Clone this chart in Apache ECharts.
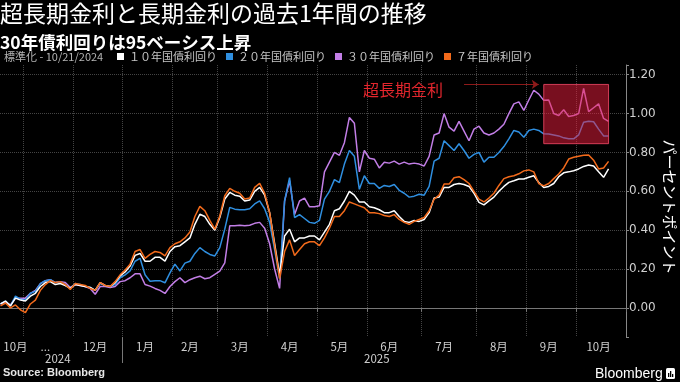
<!DOCTYPE html>
<html><head><meta charset="utf-8">
<script src="https://cdn.jsdelivr.net/npm/echarts@6/dist/echarts.min.js"></script>
<style>html,body{margin:0;padding:0;background:#000;}#c{width:680px;height:382px;}</style>
</head><body><div id="c"></div>
<script>
// sampled trading days (every second JGB trading day)
const dates = [
'2024-10-21','2024-10-23','2024-10-25','2024-10-29','2024-10-31',
'2024-11-05','2024-11-07','2024-11-11','2024-11-13','2024-11-15','2024-11-19','2024-11-21','2024-11-25','2024-11-27','2024-11-29',
'2024-12-03','2024-12-05','2024-12-09','2024-12-11','2024-12-13','2024-12-17','2024-12-19','2024-12-23','2024-12-25','2024-12-27',
'2025-01-06','2025-01-08','2025-01-10','2025-01-15','2025-01-17','2025-01-21','2025-01-23','2025-01-27','2025-01-29','2025-01-31',
'2025-02-04','2025-02-06','2025-02-10','2025-02-13','2025-02-17','2025-02-19','2025-02-21','2025-02-26','2025-02-28',
'2025-03-04','2025-03-06','2025-03-10','2025-03-12','2025-03-14','2025-03-18','2025-03-21','2025-03-25','2025-03-27','2025-03-31',
'2025-04-02','2025-04-04','2025-04-08','2025-04-10','2025-04-14','2025-04-16','2025-04-18','2025-04-22','2025-04-24','2025-04-28',
'2025-05-01','2025-05-07','2025-05-09','2025-05-13','2025-05-15','2025-05-19','2025-05-21','2025-05-23','2025-05-27','2025-05-29',
'2025-06-02','2025-06-04','2025-06-06','2025-06-10','2025-06-12','2025-06-16','2025-06-18','2025-06-20','2025-06-24','2025-06-26','2025-06-30',
'2025-07-02','2025-07-04','2025-07-08','2025-07-10','2025-07-14','2025-07-16','2025-07-18','2025-07-23','2025-07-25','2025-07-29','2025-07-31',
'2025-08-04','2025-08-06','2025-08-08','2025-08-13','2025-08-15','2025-08-19','2025-08-21','2025-08-25','2025-08-27','2025-08-29',
'2025-09-02','2025-09-04','2025-09-08','2025-09-10','2025-09-12','2025-09-17','2025-09-19','2025-09-24','2025-09-26','2025-09-30',
'2025-10-02','2025-10-06','2025-10-08','2025-10-10','2025-10-15','2025-10-17','2025-10-21'
];
// empty axis room after the last observation
const futureDates = ['2025-10-23','2025-10-27','2025-10-29'];

const seriesNames = ['１０年国債利回り','２０年国債利回り','３０年国債利回り','７年国債利回り'];

const y10 = [
0.02,0.035,0.01,0.05,0.04,0.035,0.06,0.075,0.11,0.13,
0.135,0.12,0.125,0.115,0.10,0.12,0.115,0.11,0.105,0.09,
0.13,0.115,0.11,0.13,0.165,0.185,0.215,0.27,0.28,0.24,
0.24,0.26,0.26,0.241,0.29,0.315,0.32,0.34,0.36,0.43,
0.482,0.47,0.43,0.40,0.465,0.56,0.594,0.58,0.575,0.55,
0.555,0.60,0.62,0.58,0.49,0.33,0.17,0.37,0.405,0.34,
0.36,0.36,0.37,0.37,0.35,0.39,0.43,0.50,0.51,0.55,
0.60,0.58,0.545,0.545,0.52,0.515,0.505,0.49,0.49,0.50,
0.47,0.445,0.44,0.45,0.445,0.455,0.49,0.565,0.57,0.62,
0.62,0.635,0.64,0.635,0.625,0.59,0.543,0.53,0.551,0.57,
0.60,0.625,0.646,0.654,0.663,0.663,0.672,0.68,0.645,0.62,
0.625,0.64,0.675,0.695,0.70,0.706,0.715,0.728,0.735,0.73,
0.70,0.672,0.715];
const y20 = [
0.02,0.035,0.01,0.06,0.045,0.04,0.075,0.085,0.125,0.14,
0.145,0.13,0.135,0.12,0.10,0.125,0.12,0.11,0.105,0.09,
0.125,0.115,0.11,0.12,0.155,0.17,0.19,0.24,0.255,0.17,
0.137,0.14,0.14,0.129,0.18,0.225,0.19,0.23,0.24,0.28,
0.31,0.29,0.275,0.267,0.31,0.405,0.517,0.508,0.505,0.505,
0.51,0.535,0.551,0.51,0.44,0.30,0.15,0.55,0.67,0.465,
0.48,0.46,0.44,0.435,0.45,0.56,0.60,0.66,0.645,0.74,
0.81,0.78,0.61,0.68,0.64,0.64,0.615,0.63,0.625,0.635,
0.605,0.59,0.57,0.575,0.585,0.58,0.625,0.755,0.77,0.86,
0.835,0.81,0.845,0.81,0.77,0.79,0.80,0.75,0.775,0.775,
0.80,0.83,0.87,0.913,0.905,0.878,0.913,0.92,0.913,0.896,
0.895,0.89,0.885,0.875,0.87,0.87,0.89,0.955,0.96,0.958,
0.92,0.885,0.885];
const y30 = [
0.02,0.03,0.015,0.05,0.05,0.05,0.075,0.09,0.125,0.14,
0.145,0.13,0.135,0.13,0.105,0.12,0.115,0.11,0.10,0.07,
0.11,0.11,0.105,0.11,0.135,0.14,0.155,0.175,0.175,0.12,
0.112,0.10,0.09,0.074,0.11,0.135,0.155,0.13,0.145,0.155,
0.163,0.15,0.155,0.172,0.189,0.232,0.422,0.422,0.425,0.422,
0.425,0.435,0.44,0.41,0.33,0.20,0.10,0.55,0.655,0.48,
0.55,0.565,0.52,0.52,0.525,0.70,0.75,0.80,0.785,0.85,
0.98,0.95,0.70,0.81,0.77,0.765,0.72,0.75,0.745,0.755,
0.74,0.75,0.74,0.745,0.74,0.73,0.78,0.89,0.90,1.0,
0.93,0.91,0.96,0.91,0.86,0.92,0.935,0.90,0.89,0.90,
0.92,0.945,1.0,1.05,1.06,1.016,1.07,1.12,1.10,1.068,
1.07,1.0,0.99,1.02,0.985,0.99,1.0,1.13,1.01,1.03,
1.05,0.975,0.96];
const y7 = [
0.01,0.025,0.0,0.015,-0.01,-0.025,0.02,0.04,0.09,0.12,
0.14,0.13,0.135,0.12,0.095,0.125,0.12,0.115,0.10,0.09,
0.13,0.115,0.11,0.135,0.17,0.195,0.225,0.29,0.30,0.255,
0.275,0.29,0.285,0.267,0.31,0.33,0.34,0.36,0.39,0.47,
0.522,0.50,0.45,0.405,0.473,0.577,0.615,0.60,0.59,0.56,
0.565,0.62,0.641,0.59,0.49,0.32,0.15,0.29,0.35,0.27,
0.30,0.33,0.34,0.34,0.32,0.36,0.41,0.47,0.47,0.50,
0.545,0.535,0.525,0.515,0.49,0.49,0.485,0.475,0.47,0.48,
0.455,0.44,0.43,0.445,0.455,0.465,0.50,0.56,0.58,0.637,
0.637,0.67,0.675,0.66,0.64,0.60,0.56,0.545,0.565,0.59,
0.63,0.665,0.675,0.68,0.69,0.705,0.71,0.70,0.64,0.628,
0.64,0.665,0.689,0.72,0.766,0.775,0.78,0.785,0.787,0.76,
0.715,0.72,0.754];

// tick labels
const monthLabels = {
 '2024-10':'10月','2024-11':'...','2024-12':'12月','2025-01':'1月','2025-02':'2月','2025-03':'3月',
 '2025-04':'4月','2025-05':'5月','2025-06':'6月','2025-07':'7月','2025-08':'8月','2025-09':'9月','2025-10':'10月'
};
const yearLabels = ['2024','2025'];

// annotation
const annoText = '超長期金利';
const annoArea = {from:'2025-09-10', to:'2025-10-21', low:0.845, high:1.15};
const arrowLine = {from:'2025-07-25', to:'2025-09-08', level:1.15};

// ---- derived axis helpers
const categories = dates.concat(futureDates);
const N = categories.length;
const mKey = d => d.slice(0,7);
const mFirst = {}, mLast = {};
categories.forEach((d,i)=>{const m=mKey(d); if(!(m in mFirst)) mFirst[m]=i; mLast[m]=i;});
const monthLabelIdx = {};
Object.keys(mFirst).forEach(m=>{const f=mFirst[m], l=mLast[m]; monthLabelIdx[f===0 ? Math.floor((f+l)/2)+1 : Math.floor((f+l-1)/2)] = m;});
const isMonthStart = i => i>0 && mKey(categories[i]) !== mKey(categories[i-1]);

// year axis: N+1 boundary positions
const yearBounds = [];
for (let j=0;j<=N;j++) yearBounds.push(categories[Math.min(j,N-1)].slice(0,4) + '|' + j);
const yOf = j => yearBounds[j].split('|')[0];
const yFirst = {}, yLast = {};
yearBounds.forEach((v,j)=>{const y=yOf(j); if(!(y in yFirst)) yFirst[y]=j; yLast[y]=j;});
const yearLabelIdx = {};
yearLabels.forEach(y=>{ yearLabelIdx[Math.ceil((yFirst[y]+yLast[y])/2)] = y; });
const isYearStart = j => j>0 && yOf(j) !== yOf(j-1);

const FONT = '"Noto Sans CJK JP", "Noto Sans", sans-serif';
const chart = echarts.init(document.getElementById('c'), null, {renderer:'canvas'});

const mk = (name, data, color, extra) => Object.assign({
  name, type:'line', data, showSymbol:false, symbol:'none', smooth:false,
  lineStyle:{width:1.5, color}, itemStyle:{color}, emphasis:{disabled:true}
}, extra || {});

chart.setOption({
  backgroundColor:'#000',
  animation:false,
  title:[
    {text:'超長期金利と長期金利の過去1年間の推移', left:0, top:2, padding:0,
     textStyle:{color:'#fff', fontSize:23, fontWeight:'normal', fontFamily:FONT}},
    {text:'30年債利回りは95ベーシス上昇', left:0, top:34, padding:0,
     textStyle:{color:'#fff', fontSize:17.5, fontWeight:'bold', fontFamily:FONT}},
    {text:'標準化 - 10/21/2024', left:4, top:51, padding:0,
     textStyle:{color:'#b4b4b4', fontSize:11, fontWeight:'normal', fontFamily:FONT}},
    {text:'Source: Bloomberg', left:3, top:367, padding:0,
     textStyle:{color:'#e6e6e6', fontSize:11, fontWeight:'bold', fontFamily:'"Liberation Sans", sans-serif'}}
  ],
  legend:{
    data:seriesNames, left:117, top:51, padding:0, itemGap:9, itemWidth:7, itemHeight:7, icon:'rect',
    textStyle:{color:'#c8c8c8', fontSize:11, fontFamily:FONT}, selectedMode:false
  },
  grid:{left:-2, right:54, top:65, bottom:45, containLabel:false, outerBoundsMode:'none'},
  xAxis:[
    {type:'category', data:categories, boundaryGap:true, position:'bottom',
     axisLine:{show:true, lineStyle:{color:'#777', width:1}},
     axisTick:{show:true, interval:(i)=>isMonthStart(i), length:4, lineStyle:{color:'#777'}},
     axisLabel:{interval:(i)=>(i in monthLabelIdx), formatter:(v,i)=>monthLabels[mKey(v)]||'',
       color:'#cfcfcf', fontSize:11.5, fontFamily:FONT, margin:4},
     splitLine:{show:true, interval:(i)=>isMonthStart(i), lineStyle:{color:'#444', type:'dotted', width:1}}
    },
    {type:'category', data:yearBounds, boundaryGap:false, position:'bottom', offset:0,
     axisLine:{show:false},
     axisTick:{show:true, interval:(j)=>isYearStart(j), length:26, lineStyle:{color:'#777'}},
     axisLabel:{interval:(j)=>(j in yearLabelIdx), formatter:(v)=>v.split('|')[0],
       color:'#cfcfcf', fontSize:11.5, fontFamily:FONT, margin:16},
     splitLine:{show:false}
    }
  ],
  yAxis:{
    type:'value', position:'right', min:-0.15, max:1.25, splitNumber:7,
    axisLine:{show:true, lineStyle:{color:'#888'}},
    axisTick:{show:true, length:3, lineStyle:{color:'#888'}},
    axisLabel:{color:'#cfcfcf', fontSize:12, fontFamily:'"DejaVu Sans", sans-serif', margin:3,
      formatter:(v)=>{const r=v*5; return Math.abs(r-Math.round(r))>1e-6 ? '' : (Math.abs(v)<1e-9?0:v).toFixed(2);}},
    splitLine:{show:true, showMinLine:false, showMaxLine:false, lineStyle:{color:'#444', type:'dotted', width:1}},
    name:'パーセントポイント', nameLocation:'middle', nameRotate:-90, nameGap:36, nameMoveOverlap:false,
    nameTextStyle:{color:'#fff', fontSize:15, fontFamily:FONT, padding:[0,0,0,12]}
  },
  series:[
    mk(seriesNames[2], y30, '#c27ee6', {
      markArea:{silent:true, z:6,
        itemStyle:{color:'rgba(240,30,62,0.5)', borderColor:'rgba(235,70,100,0.85)', borderWidth:1},
        data:[[{xAxis:annoArea.from, yAxis:annoArea.low},{xAxis:annoArea.to, yAxis:annoArea.high}]]},
      markLine:{silent:true, symbol:['none','arrow'], symbolSize:7, label:{show:false},
        lineStyle:{color:'#8e1a1a', width:1.2, type:'solid'},
        data:[[{coord:[arrowLine.from, arrowLine.level]},{coord:[arrowLine.to, arrowLine.level]}]]}
    }),
    mk(seriesNames[1], y20, '#2f8fe0'),
    mk(seriesNames[0], y10, '#ffffff'),
    mk(seriesNames[3], y7, '#f26a1b')
  ],
  graphic:[
    {type:'text', left:363, top:82, z:20, style:{text:annoText, fill:'#e3262d', font:'16px "Noto Sans CJK JP"'}},
    {type:'text', left:595, top:367, z:20, style:{text:'Bloomberg', fill:'#ffffff', font:'500 14px "Liberation Sans", sans-serif'}},
    {type:'group', left:666, top:368, z:20, children:[
      {type:'rect', shape:{x:0,y:0,width:9,height:11,r:1.5}, style:{fill:'#fff'}},
      {type:'rect', shape:{x:2,y:5,width:1.3,height:4}, style:{fill:'#000'}},
      {type:'rect', shape:{x:4,y:3,width:1.3,height:6}, style:{fill:'#000'}},
      {type:'rect', shape:{x:6,y:6,width:1.3,height:3}, style:{fill:'#000'}}
    ]}
  ]
});
</script>
</body></html>
